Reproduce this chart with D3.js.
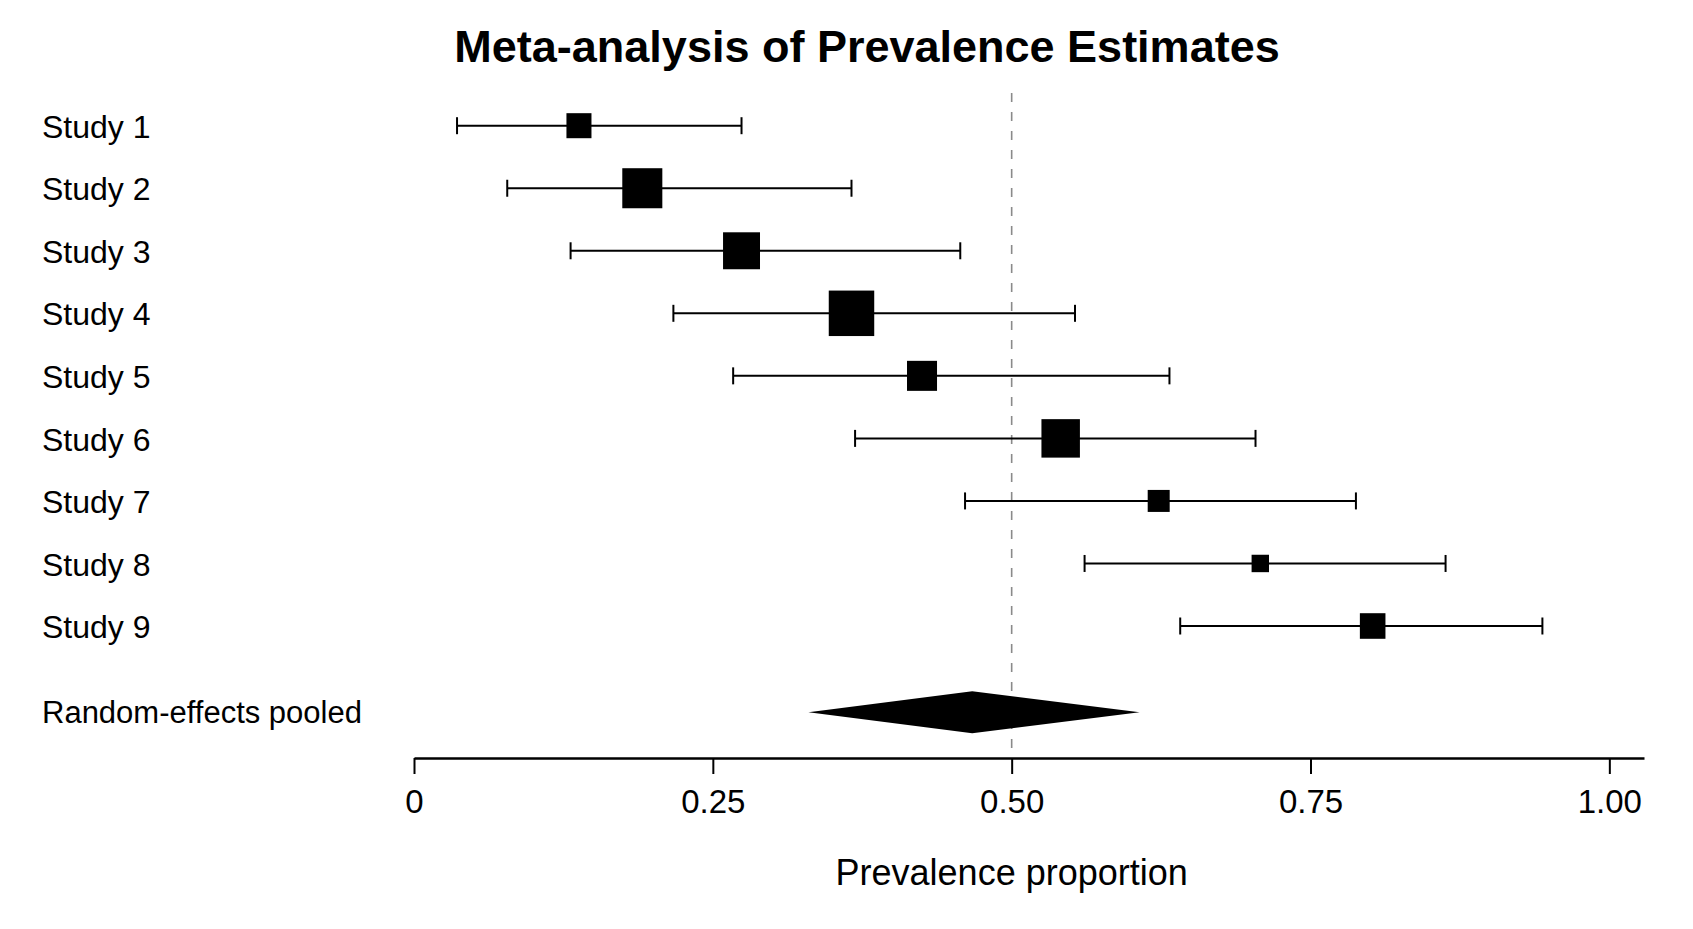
<!DOCTYPE html>
<html>
<head>
<meta charset="utf-8">
<script src="https://cdn.jsdelivr.net/npm/d3@7"></script>
<style>
  body { margin: 0; background: #fff; }
  svg { display: block; font-family: "Liberation Sans", Arial, sans-serif; }
  .axis path, .axis line { stroke: #000; }
</style>
</head>
<body>
<svg id="chart" width="1693" height="929"></svg>
<script>
// study data (proportion scale)
let studies = ["Study 1", "Study 2", "Study 3", "Study 4", "Study 5", "Study 6", "Study 7", "Study 8", "Study 9"]
let estimates = [0.138, 0.191, 0.274, 0.366, 0.425, 0.541, 0.623, 0.708, 0.802]
let lower = [0.036, 0.078, 0.131, 0.217, 0.267, 0.369, 0.461, 0.561, 0.641]
let upper = [0.274, 0.366, 0.457, 0.553, 0.632, 0.704, 0.788, 0.863, 0.944]
let weights = [6.6, 16.9, 14.4, 21.8, 9.5, 15.6, 5.1, 3.2, 6.9]

let pooledLabel = "Random-effects pooled"
let pooled = {est: 0.467, lo: 0.330, hi: 0.607}

let tickVals = [0, 0.25, 0.50, 0.75, 1.00]
let tickLabels = ["0", "0.25", "0.50", "0.75", "1.00"]

let data = studies.map((s, i) => ({name: s, est: estimates[i], lo: lower[i], hi: upper[i], w: weights[i], row: i}))

let svg = d3.select("#chart")

let x = d3.scaleLinear()
      .domain([0, 1.029])
      .range([414, 1644])

// rows: studies 0..8, pooled row sits a bit lower
let y = d3.scaleLinear()
      .domain([0, 8])
      .range([125.7, 626])
let pooledRow = 9.38
let axisY = 758

let size = d3.scaleSqrt()
      .domain([0, 100])
      .range([0, 97.4])

// title
svg.append("text")
  .attr("x", 867)
  .attr("y", 62)
  .attr("text-anchor", "middle")
  .style("font-size", "45px")
  .style("font-weight", "bold")
  .text("Meta-analysis of Prevalence Estimates")

// reference line at 0.5
svg.append("line")
  .attr("x1", x(0.5)).attr("x2", x(0.5))
  .attr("y1", 93).attr("y2", axisY)
  .attr("stroke", "#8a8a8a")
  .attr("stroke-width", 1.6)
  .attr("stroke-dasharray", "9,10")

// row labels
svg.selectAll(".row-label")
  .data(data)
  .enter()
  .append("text")
  .attr("class", "row-label")
  .attr("x", 42)
  .attr("y", d => y(d.row))
  .attr("dy", "0.38em")
  .style("font-size", "32px")
  .text(d => d.name)

svg.append("text")
  .attr("x", 42)
  .attr("y", y(pooledRow))
  .attr("dy", "0.33em")
  .style("font-size", "31px")
  .text(pooledLabel)

// CI whiskers
let g = svg.append("g").attr("stroke", "#000").attr("stroke-width", 2)

g.selectAll(".ci")
  .data(data)
  .enter()
  .append("line")
  .attr("x1", d => x(d.lo))
  .attr("x2", d => x(d.hi))
  .attr("y1", d => y(d.row))
  .attr("y2", d => y(d.row))

g.selectAll(".cap-lo")
  .data(data)
  .enter()
  .append("line")
  .attr("x1", d => x(d.lo)).attr("x2", d => x(d.lo))
  .attr("y1", d => y(d.row) - 8.5).attr("y2", d => y(d.row) + 8.5)

g.selectAll(".cap-hi")
  .data(data)
  .enter()
  .append("line")
  .attr("x1", d => x(d.hi)).attr("x2", d => x(d.hi))
  .attr("y1", d => y(d.row) - 8.5).attr("y2", d => y(d.row) + 8.5)

// weighted boxes
svg.selectAll(".box")
  .data(data)
  .enter()
  .append("rect")
  .attr("class", "box")
  .attr("x", d => x(d.est) - size(d.w) / 2)
  .attr("y", d => y(d.row) - size(d.w) / 2)
  .attr("width", d => size(d.w))
  .attr("height", d => size(d.w))
  .attr("fill", "#000")

// pooled diamond
let py = y(pooledRow), ph = 21
svg.append("path")
  .attr("d", d3.line()([
    [x(pooled.lo), py],
    [x(pooled.est), py - ph],
    [x(pooled.hi), py],
    [x(pooled.est), py + ph]
  ]) + "Z")
  .attr("fill", "#000")

// x axis
let axis = svg.append("g")
  .attr("class", "axis")
  .attr("transform", "translate(0," + axisY + ")")
  .call(d3.axisBottom(x)
    .tickValues(tickVals)
    .tickFormat((d, i) => tickLabels[i])
    .tickSize(16)
    .tickSizeOuter(0)
    .tickPadding(16))

axis.select(".domain").attr("stroke-width", 2.5)
axis.selectAll(".tick line").attr("stroke-width", 2)
axis.selectAll(".tick text")
  .attr("fill", "#000")
  .style("font-family", "'Liberation Sans', Arial, sans-serif")
  .style("font-size", "33px")

// axis title
svg.append("text")
  .attr("x", x(0.5))
  .attr("y", 885)
  .attr("text-anchor", "middle")
  .style("font-size", "36px")
  .text("Prevalence proportion")
</script>
</body>
</html>
